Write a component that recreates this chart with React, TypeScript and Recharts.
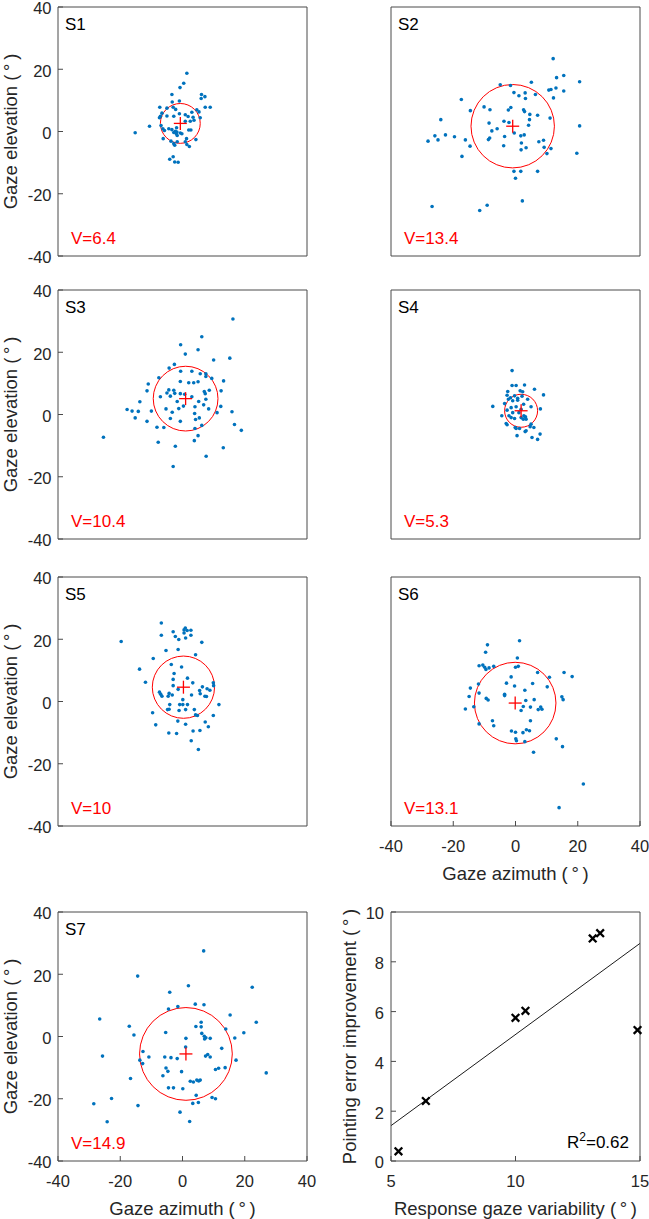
import {
  ScatterChart,
  Scatter,
  XAxis,
  YAxis,
  ReferenceDot,
  ReferenceArea,
  ReferenceLine,
} from 'recharts'

const FONT = '"Liberation Sans", Arial, Helvetica, sans-serif'
const INK = '#262626'
const FRAME = '#4a4a4a'
const DOT = '#0072bd'
const RED = '#ff0000'

const GAZE_TICKS = [-40, -20, 0, 20, 40]
const VAR_TICKS = [5, 10, 15]
const IMP_TICKS = [0, 2, 4, 6, 8, 10]

const SUBJECTS = ['S1', 'S2', 'S3', 'S4', 'S5', 'S6', 'S7']
const V_VALUES = [6.4, 13.4, 10.4, 5.3, 10, 13.1, 14.9]
const CENTER_AZ = [-0.7, -0.9, 1.0, 1.8, 0.3, -0.1, 1.1]
const CENTER_EL = [2.6, 1.7, 5.1, 1.2, 4.6, -0.5, -5.6]

const S1_AZ = [-15.2, -10.6, 1.4, 0.4, -0.8, -3.4, -3.3, -1.0, 6.1, 7.2, 6.0, 7.3, 8.9, 4.6, 5.3, 3.0, 0.9, 1.8, -7.3, -5.0, -3.0, -2.2, -6.6, -7.1, -7.4, -5.0, -2.8, -1.0, 0.9, 2.5, 3.7, 3.4, 5.7, -6.9, -6.3, -5.8, -4.4, -3.4, -2.3, -1.9, -1.8, -2.8, -0.7, -2.0, -1.7, -0.2, 2.0, 2.7, -6.2, -3.7, -2.8, -1.7, -2.5, 0.9, 1.4, 2.2, 4.3, 1.3, -4.1, -3.0, -2.5, -1.4]
const S1_EL = [-0.4, 1.7, 18.7, 15.5, 14.1, 11.9, 9.5, 9.8, 11.9, 11.2, 10.6, 7.8, 7.8, 7.0, 6.3, 6.2, 5.4, 4.8, 7.8, 7.5, 7.8, 7.1, 5.9, 4.9, 4.4, 5.0, 4.9, 5.7, 3.3, 3.3, 3.6, 4.6, 4.4, 1.9, 0.9, 0.3, 0.9, 0.6, 0.1, 1.2, -0.2, -0.3, -0.5, -0.7, -1.3, -0.7, 0.5, 0.5, -2.3, -3.1, -3.9, -3.3, -4.4, -3.3, -4.2, -4.8, -2.6, -2.3, -8.9, -8.1, -9.8, -9.9]

const S2_AZ = [12.1, 15.5, 13.2, 20.6, -4.9, -1.6, 5.1, 10.7, 11.4, 13.0, 15.5, 12.2, -0.5, 1.1, 3.1, 3.2, 6.4, -17.4, -10.1, -8.2, -14.5, -2.3, -1.5, 2.6, 2.9, 4.6, 7.1, 11.1, -24.0, -3.7, -2.1, 4.5, 4.2, 20.6, -8.5, -5.9, -7.6, -3.5, -0.4, 1.7, 2.8, -25.9, -22.5, -28.1, -24.9, -19.6, -16.1, -8.3, -8.7, -3.8, -14.6, 1.9, 3.4, 1.8, 7.5, 9.0, 9.2, 11.4, 10.1, 19.7, -17.2, -0.5, 1.7, 7.1, 0.0, 2.2, -26.8, -11.5, -9.1]
const S2_EL = [23.4, 18.0, 17.3, 16.0, 15.0, 14.8, 15.8, 13.3, 13.5, 14.0, 13.0, 10.8, 12.5, 11.5, 12.4, 10.6, 11.9, 10.3, 7.9, 7.0, 6.7, 6.9, 7.7, 7.0, 6.4, 5.5, 5.2, 4.3, 3.8, 3.3, 2.9, 3.8, 2.0, 1.8, 2.7, 0.9, 0.2, -1.6, -0.5, -1.4, -1.1, -1.4, -1.1, -3.1, -2.7, -1.7, -2.7, -2.1, -2.6, -4.6, -4.7, -3.7, -5.2, -5.9, -3.3, -2.8, -5.1, -5.5, -7.1, -7.0, -8.0, -12.8, -12.8, -12.8, -15.0, -22.3, -24.1, -25.4, -23.7]

const S3_AZ = [16.2, 6.2, -0.6, 5.0, 0.9, 15.2, 10.0, -2.6, -4.3, -0.6, 3.0, 5.7, 7.5, -7.6, 7.5, 9.4, 13.2, 5.0, 2.0, 3.6, -0.7, -11.0, 8.6, 12.4, -11.4, -2.8, -4.4, -2.5, -3.9, -7.1, -5.0, -0.7, 0.7, 3.0, 7.0, 7.3, 7.5, 5.2, -13.7, -1.7, 4.0, 6.8, -17.8, -16.2, -14.2, -10.0, -5.3, -3.3, -1.2, 0.3, 8.4, 11.1, 12.3, 15.9, -15.2, -11.4, -3.9, -0.7, 3.9, 5.4, 4.2, -8.2, -6.0, 6.2, 4.0, 16.7, 18.9, 5.0, -7.8, 3.8, -2.3, 13.1, 7.6, -3.0, -25.4]
const S3_EL = [30.7, 25.0, 22.4, 20.8, 19.4, 18.1, 17.5, 16.1, 14.9, 13.9, 13.9, 13.1, 13.1, 11.8, 12.2, 11.6, 10.8, 10.5, 10.2, 10.2, 10.6, 9.8, 7.8, 7.6, 7.6, 7.8, 7.9, 6.8, 5.9, 5.7, 6.9, 6.7, 6.5, 5.7, 7.4, 6.7, 4.9, 4.2, 4.1, 4.2, 2.5, 3.1, 1.6, 1.1, 1.0, 1.1, 1.8, 0.7, 1.9, 2.7, 1.8, 0.6, 2.6, 0.9, -1.1, -2.2, -1.3, -2.2, 0.3, -1.1, -1.6, -4.1, -4.2, -3.5, -4.5, -3.2, -5.1, -6.8, -8.9, -8.4, -10.2, -10.7, -13.4, -16.7, -7.3]

const S4_AZ = [-1.1, -1.1, 0.2, 2.9, 6.1, 9.0, -2.5, 1.5, 2.3, -2.7, -1.6, -0.3, 0.7, 2.1, 3.9, -2.3, -0.9, 0.7, 2.6, -3.5, -7.3, -1.4, 0.2, 1.8, 5.0, 8.0, -2.7, -0.9, 1.1, 2.7, 3.2, -4.4, -2.1, -1.4, -0.3, 1.8, 2.5, 3.4, -3.0, -2.7, -0.1, 1.3, 0.2, 3.4, 4.7, 5.9, 5.0, 7.9, 5.3, 7.1, 0.5, 3.1]
const S4_EL = [14.1, 9.3, 9.3, 9.5, 8.1, 6.3, 7.4, 7.6, 7.3, 6.2, 5.4, 6.0, 5.2, 5.9, 4.9, 4.9, 4.4, 4.6, 3.3, 3.5, 2.6, 2.2, 2.5, 1.7, 2.5, 1.8, 1.4, 0.6, 0.6, -0.4, -0.7, -0.4, -0.4, -1.0, -1.3, -1.0, -1.5, -1.5, -2.9, -3.3, -4.2, -4.5, -4.5, -5.2, -3.9, -4.2, -3.1, -6.3, -7.4, -8.0, -6.8, -5.5]

const S5_AZ = [-6.8, 0.9, 0.5, 1.5, 2.7, -3.0, 0.5, -2.3, -6.8, 2.7, -1.2, 1.0, 6.2, -19.7, -5.3, -1.4, 4.2, -9.4, -13.8, -0.3, -3.6, -2.7, -11.9, -3.0, -3.0, 1.6, 3.3, 6.4, -1.4, 7.9, 9.9, 10.0, 8.8, 5.5, 5.7, -7.4, -7.0, -6.6, -4.3, -3.3, -4.6, 2.9, 7.2, 7.7, 0.1, -0.9, 0.1, 1.6, -4.1, 11.7, -4.8, -4.3, -1.1, 1.0, 3.8, 4.2, 4.8, 9.9, -9.6, -8.6, -1.5, 1.0, 7.3, 8.3, -4.4, -1.9, 3.4, 5.6, 2.8, 5.1]
const S5_EL = [25.2, 23.6, 23.0, 22.8, 22.9, 22.4, 22.0, 20.9, 21.3, 21.3, 19.9, 20.4, 19.0, 19.3, 16.4, 16.7, 15.0, 13.8, 10.4, 11.1, 11.9, 9.0, 6.2, 7.1, 5.1, 7.5, 6.0, 4.7, 3.9, 4.1, 6.0, 5.1, 3.6, 3.5, 2.5, 3.0, 2.3, 1.7, 2.6, 2.1, 1.7, 2.1, 1.7, 1.6, 0.6, -1.0, -1.0, -1.0, -1.0, -1.0, -2.6, -2.5, -2.9, -2.6, -2.6, -4.3, -4.5, -4.5, -3.6, -7.5, -6.3, -7.3, -6.6, -8.1, -10.1, -10.3, -9.5, -9.3, -12.6, -15.4]

const S6_AZ = [1.3, -9.0, -9.6, 0.6, -11.7, -10.5, -9.9, -9.5, -8.5, -7.0, 0.0, 0.9, 7.1, 10.9, 15.6, 18.2, -1.4, -2.9, -0.3, 5.5, 10.2, -11.9, -14.5, -11.7, -14.9, -3.5, -3.5, 3.0, -9.4, -8.8, 3.3, 6.0, 14.9, 15.3, -16.1, -13.4, 2.5, 4.8, 1.8, 7.3, 8.1, 8.5, -11.7, -7.4, -7.0, 4.8, -1.3, 0.0, 2.4, 3.5, 4.5, 0.1, 0.3, 3.0, 13.1, 15.1, 5.8, 21.8, 14.0]
const S6_EL = [19.5, 18.2, 15.8, 14.0, 11.5, 11.7, 11.0, 10.3, 10.8, 11.3, 11.0, 11.3, 9.3, 7.8, 9.3, 8.0, 7.9, 5.9, 5.0, 5.8, 4.7, 5.6, 4.3, 2.7, 1.6, 2.3, 1.9, 3.6, 1.0, 0.5, 0.3, 0.6, 1.5, 0.6, -2.4, -1.7, -1.6, -1.8, -2.9, -2.6, -1.8, -2.5, -7.2, -6.2, -7.8, -6.2, -9.5, -9.9, -10.0, -9.1, -9.4, -12.0, -12.6, -12.9, -12.0, -14.5, -16.3, -26.5, -34.1]

const S7_AZ = [6.8, -14.4, 1.9, 22.4, -4.1, 4.1, 6.9, -4.5, -1.5, 15.3, -26.6, 23.7, -17.1, 4.3, 6.0, 6.0, -5.4, 6.2, 7.0, 7.5, 7.1, -15.6, 1.1, 8.9, 13.9, 16.8, 19.7, -12.7, -25.7, -10.8, -13.7, -12.8, -5.7, -3.7, -1.7, 1.0, 7.4, 8.1, 8.9, 12.6, 17.2, -5.3, -4.7, -6.3, -0.3, 10.6, 11.6, 13.7, -16.7, 2.5, 3.5, 4.6, 5.7, 5.2, -4.5, -2.9, 0.1, 4.4, -22.8, -28.5, -14.3, 3.3, 5.1, 9.5, 10.6, -0.8, 2.3, -24.2, 26.9]
const S7_EL = [27.5, 19.4, 16.3, 15.8, 14.2, 10.4, 10.2, 8.8, 9.6, 6.9, 5.6, 4.6, 3.3, 3.2, 4.6, 3.1, 1.3, 1.0, 0.1, -0.4, -0.8, 0.5, -0.6, -0.6, 2.4, -0.5, 1.2, -4.8, -6.3, -6.6, -7.6, -8.7, -6.6, -6.8, -7.1, -3.4, -6.3, -5.8, -6.6, -3.8, -7.6, -10.1, -11.2, -12.6, -11.3, -10.6, -10.2, -10.0, -13.5, -14.4, -14.6, -14.0, -14.0, -14.3, -16.5, -16.5, -16.8, -18.9, -19.9, -21.6, -22.2, -21.5, -21.2, -19.6, -20.0, -24.3, -27.3, -27.4, -11.7]

// pointing error improvement per subject, S1..S7 (x = V_VALUES)
const IMPROVEMENT = [2.41, 9.15, 6.03, 0.39, 5.75, 8.94, 5.26]
const FIT_X = [5, 15]
const FIT_Y = [1.42, 8.74]
const R2_TEXT = '0.62'

const AZ = [S1_AZ, S2_AZ, S3_AZ, S4_AZ, S5_AZ, S6_AZ, S7_AZ]
const EL = [S1_EL, S2_EL, S3_EL, S4_EL, S5_EL, S6_EL, S7_EL]

// layout
const PLOT = 249
const PX_PER_DEG = PLOT / 80
const ML = 58
const MT = 20 // space above the frame (room for the top tick label)
const MR = 14
const XH = 62
const COL_X = [58, 391]
const ROW_Y = [7, 290, 577, 912]

const TICK_FONT = 16.5
const TITLE_FONT = 18.5
const TEXT_FONT = 17
const DEG = '(\u2009°\u2009)'

const tickStyle = { fontSize: TICK_FONT, fill: INK }
const yTickStyle = { fontSize: TICK_FONT, fill: INK, dy: 1.5 }
const lineStyle = { stroke: FRAME, strokeWidth: 1 }

const dotShape = (p: any) => <circle cx={p.cx} cy={p.cy} r={1.8} fill={DOT} />

const plusShape = (p: any) => (
  <g stroke={RED} strokeWidth={1.3}>
    <line x1={p.cx - 6.5} x2={p.cx + 6.5} y1={p.cy} y2={p.cy} />
    <line x1={p.cx} x2={p.cx} y1={p.cy - 6.5} y2={p.cy + 6.5} />
  </g>
)

const xShape = (p: any) => (
  <g stroke="#000" strokeWidth={2.3}>
    <line x1={p.cx - 3.8} x2={p.cx + 3.8} y1={p.cy - 3.8} y2={p.cy + 3.8} />
    <line x1={p.cx - 3.8} x2={p.cx + 3.8} y1={p.cy + 3.8} y2={p.cy - 3.8} />
  </g>
)

const yTitle = (text: string, gap: number) => (props: any) => {
  const vb = props.viewBox
  const x = vb.x + vb.width - gap
  const y = vb.y + vb.height / 2
  return (
    <text x={x} y={y} transform={`rotate(-90 ${x} ${y})`} textAnchor="middle" fontSize={TITLE_FONT} fill={INK}>
      {text}
    </text>
  )
}

const xTitle = (text: string) => (props: any) => {
  const vb = props.viewBox
  return (
    <text x={vb.x + vb.width / 2} y={vb.y + 53.5} textAnchor="middle" fontSize={TITLE_FONT} fill={INK}>
      {text}
    </text>
  )
}

const cornerText = (name: string, v: number) => (props: any) => {
  const vb = props.viewBox
  return (
    <g fontSize={TEXT_FONT}>
      <text x={vb.x + 7} y={vb.y + 23} fill="#000">{name}</text>
      <text x={vb.x + 13} y={vb.y + vb.height - 12.5} fill={RED}>{`V=${v}`}</text>
    </g>
  )
}

const r2Text = (props: any) => {
  const vb = props.viewBox
  return (
    <text x={vb.x + vb.width - 11} y={vb.y + vb.height - 13} textAnchor="end" fontSize={TEXT_FONT} fill="#000">
      R<tspan dy={-7} fontSize={12}>2</tspan>
      <tspan dy={7}>{`=${R2_TEXT}`}</tspan>
    </text>
  )
}

// the top and right axes only draw the box edge and its inward ticks;
// Recharts skips axes of zero size, so they get 1px and the margins give it back
function frameAxes(domainX: number[], ticksX: number[], domainY: number[], ticksY: number[]) {
  return [
    <XAxis
      key="top"
      xAxisId="top"
      orientation="top"
      type="number"
      domain={domainX}
      ticks={ticksX}
      interval={0}
      height={1}
      tickSize={-5}
      tick={false}
      axisLine={lineStyle}
      tickLine={lineStyle}
    />,
    <YAxis
      key="right"
      yAxisId="right"
      orientation="right"
      type="number"
      domain={domainY}
      ticks={ticksY}
      interval={0}
      width={1}
      tickSize={-5}
      tick={false}
      axisLine={lineStyle}
      tickLine={lineStyle}
    />,
  ]
}

interface PanelProps {
  index: number
  col: number
  row: number
  xLabels: boolean
  yLabels: boolean
}

function GazePanel({ index, col, row, xLabels, yLabels }: PanelProps) {
  const points = AZ[index].map((x, i) => ({ x, y: EL[index][i] }))
  const center = [{ x: CENTER_AZ[index], y: CENTER_EL[index] }]
  const v = V_VALUES[index]

  return (
    <div style={{ position: 'absolute', left: COL_X[col] - ML, top: ROW_Y[row] - MT }}>
      <ScatterChart
        width={ML + PLOT + MR}
        height={MT + PLOT + XH}
        margin={{ top: MT - 1, right: MR - 1, bottom: 0, left: 0 }}
      >
        <XAxis
          type="number"
          dataKey="x"
          domain={[-40, 40]}
          ticks={GAZE_TICKS}
          interval={0}
          height={XH}
          tickSize={-5}
          tickMargin={19}
          tick={xLabels ? tickStyle : false}
          axisLine={lineStyle}
          tickLine={lineStyle}
          label={xLabels ? xTitle(`Gaze azimuth ${DEG}`) : undefined}
        />
        <YAxis
          type="number"
          dataKey="y"
          domain={[-40, 40]}
          ticks={GAZE_TICKS}
          interval={0}
          width={ML}
          tickSize={-5}
          tickMargin={11.5}
          tick={yLabels ? yTickStyle : false}
          axisLine={lineStyle}
          tickLine={lineStyle}
          label={yLabels ? yTitle(`Gaze elevation ${DEG}`, 41.5) : undefined}
        />
        {frameAxes([-40, 40], GAZE_TICKS, [-40, 40], GAZE_TICKS)}
        <ReferenceArea
          x1={-40}
          x2={40}
          y1={-40}
          y2={40}
          fill="none"
          stroke="none"
          label={cornerText(SUBJECTS[index], v)}
        />
        <ReferenceDot
          x={CENTER_AZ[index]}
          y={CENTER_EL[index]}
          r={v * PX_PER_DEG}
          fill="none"
          stroke={RED}
          strokeWidth={1}
        />
        <Scatter data={points} shape={dotShape} isAnimationActive={false} />
        <Scatter data={center} shape={plusShape} isAnimationActive={false} />
      </ScatterChart>
    </div>
  )
}

function RegressionPanel() {
  const points = V_VALUES.map((x, i) => ({ x, y: IMPROVEMENT[i] }))
  const fit = FIT_X.map((x, i) => ({ x, y: FIT_Y[i] }))

  return (
    <div style={{ position: 'absolute', left: COL_X[1] - ML, top: ROW_Y[3] - MT }}>
      <ScatterChart
        width={ML + PLOT + MR}
        height={MT + PLOT + XH}
        margin={{ top: MT - 1, right: MR - 1, bottom: 0, left: 0 }}
      >
        <XAxis
          type="number"
          dataKey="x"
          domain={[5, 15]}
          ticks={VAR_TICKS}
          interval={0}
          height={XH}
          tickSize={-5}
          tickMargin={19}
          tick={tickStyle}
          axisLine={lineStyle}
          tickLine={lineStyle}
          label={xTitle(`Response gaze variability ${DEG}`)}
        />
        <YAxis
          type="number"
          dataKey="y"
          domain={[0, 10]}
          ticks={IMP_TICKS}
          interval={0}
          width={ML}
          tickSize={-5}
          tickMargin={12}
          tick={yTickStyle}
          axisLine={lineStyle}
          tickLine={lineStyle}
          label={yTitle(`Pointing error improvement ${DEG}`, 35.5)}
        />
        {frameAxes([5, 15], VAR_TICKS, [0, 10], IMP_TICKS)}
        <ReferenceArea x1={5} x2={15} y1={0} y2={10} fill="none" stroke="none" label={r2Text} />
        <ReferenceLine segment={[fit[0], fit[1]]} stroke="#000" strokeWidth={0.9} />
        <Scatter data={points} shape={xShape} isAnimationActive={false} />
      </ScatterChart>
    </div>
  )
}

export default function App() {
  return (
    <div
      style={{
        position: 'absolute',
        left: 0,
        top: 0,
        width: 649,
        height: 1219,
        background: '#fff',
        fontFamily: FONT,
      }}
    >
      <GazePanel index={0} col={0} row={0} xLabels={false} yLabels />
      <GazePanel index={1} col={1} row={0} xLabels={false} yLabels={false} />
      <GazePanel index={2} col={0} row={1} xLabels={false} yLabels />
      <GazePanel index={3} col={1} row={1} xLabels={false} yLabels={false} />
      <GazePanel index={4} col={0} row={2} xLabels={false} yLabels />
      <GazePanel index={5} col={1} row={2} xLabels yLabels={false} />
      <GazePanel index={6} col={0} row={3} xLabels yLabels />
      <RegressionPanel />
    </div>
  )
}
